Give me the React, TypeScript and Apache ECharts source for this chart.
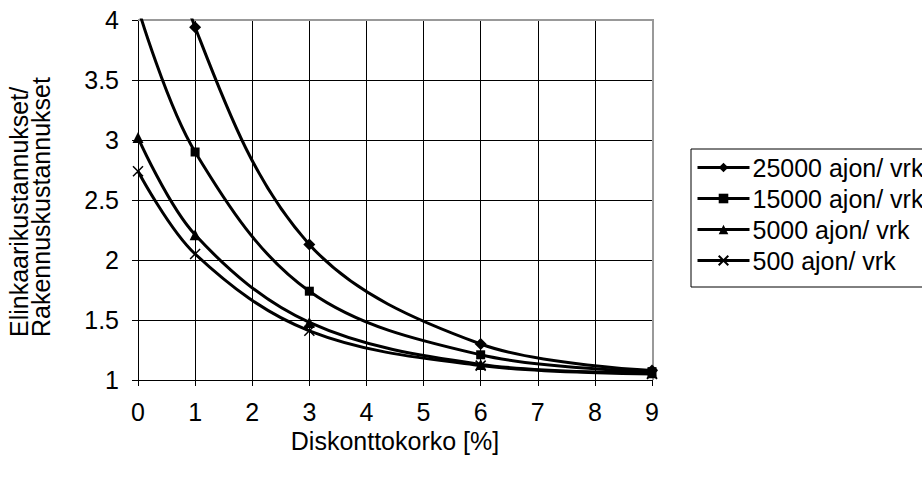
import React, { useEffect, useRef } from "react";
import * as echarts from "echarts";

// Discount rate (%) at which the ratio was computed
const rates = [0, 1, 3, 6, 9];

// Life-cycle cost / construction cost, per traffic volume
const seriesNames = ["25000 ajon/ vrk", "15000 ajon/ vrk", "5000 ajon/ vrk", "500 ajon/ vrk"];
const v25000 = [5.8, 3.94, 2.13, 1.3, 1.08];
const v15000 = [4.1, 2.9, 1.74, 1.21, 1.07];
const v5000 = [3.02, 2.21, 1.48, 1.13, 1.06];
const v500 = [2.74, 2.05, 1.41, 1.12, 1.05];

const xTicks = [0, 1, 2, 3, 4, 5, 6, 7, 8, 9];
const yTicks = [1, 1.5, 2, 2.5, 3, 3.5, 4];
const yTitleLines = ["Elinkaarikustannukset/", "Rakennuskustannukset"];

const FONT = "'Liberation Sans', Arial, sans-serif";
const FS = 25;
const CROSS = "path://M0,0L10,10M10,0L0,10";

const pair = (vals: number[]) => rates.map((r, i) => [r, vals[i]]);

export default function App() {
  const ref = useRef<HTMLDivElement>(null);

  useEffect(() => {
    document.body.style.margin = "0";
    const chart = echarts.init(ref.current!, undefined, { renderer: "svg" });

    const mk = (name: string, vals: number[], symbol: string, size: number, cross = false) => ({
      name,
      type: "line",
      data: pair(vals),
      smooth: 0.35,
      clip: true,
      symbol,
      symbolSize: size,
      showAllSymbol: true,
      lineStyle: { color: "#000", width: 3 },
      itemStyle: cross
        ? { color: "none", borderColor: "#000", borderWidth: 1.5 }
        : { color: "#000", borderColor: "#000", borderWidth: 0 },
      emphasis: { disabled: true },
    });

    chart.setOption({
      animation: false,
      backgroundColor: "#fff",
      textStyle: { fontFamily: FONT },
      grid: {
        left: 138,
        right: 270,
        top: 20,
        bottom: 97,
        show: false,
        containLabel: false,
        outerBoundsMode: "none",
      },
      xAxis: {
        type: "value",
        min: 0,
        max: 9,
        interval: 1,
        name: "Diskonttokorko [%]",
        nameLocation: "middle",
        nameGap: 40,
        nameTextStyle: { fontSize: FS, color: "#000", fontFamily: FONT },
        axisLine: { show: true, onZero: false, lineStyle: { color: "#000", width: 1 } },
        axisTick: { show: true, length: 6, lineStyle: { color: "#000" } },
        axisLabel: {
          fontSize: FS,
          color: "#000",
          margin: 19,
          fontFamily: FONT,
          formatter: (v: number) => (xTicks.includes(v) ? String(v) : ""),
        },
        splitLine: { show: true, lineStyle: { color: "#000", width: 1 } },
      },
      yAxis: {
        type: "value",
        min: 1,
        max: 4,
        interval: 0.5,
        axisLine: { show: true, lineStyle: { color: "#000", width: 1 } },
        axisTick: { show: true, length: 6, lineStyle: { color: "#000" } },
        axisLabel: {
          fontSize: FS,
          color: "#000",
          margin: 19,
          fontFamily: FONT,
          formatter: (v: number) => (yTicks.includes(v) ? String(v) : ""),
        },
        splitLine: { show: true, lineStyle: { color: "#000", width: 1 } },
      },
      legend: {
        orient: "vertical",
        left: 691,
        top: 149,
        itemWidth: 52,
        itemHeight: 12,
        itemGap: 6,
        padding: [6, 20, 14, 5],
        borderColor: "#000",
        borderWidth: 1,
        lineStyle: { width: 3, color: "#000" },
        textStyle: { fontSize: FS, color: "#000", fontFamily: FONT, padding: [0, 0, 0, -2] },
        data: seriesNames,
        selectedMode: false,
      },
      graphic: [
        // grey plot-area border on the top and right edges
        {
          type: "polyline",
          shape: { points: [[138, 20], [653, 20], [653, 380]] },
          style: { stroke: "#999", lineWidth: 2, fill: "none" },
          z: 1,
        },
        // two-line vertical y-axis title, both lines starting at the same baseline end
        ...yTitleLines.map((t, i) => ({
          type: "text",
          x: 19 + i * 22,
          y: 337,
          rotation: Math.PI / 2,
          style: {
            text: t,
            fontSize: FS,
            fontFamily: FONT,
            fill: "#000",
            align: "left",
            verticalAlign: "middle",
          },
        })),
      ],
      series: [
        mk(seriesNames[0], v25000, "diamond", 12),
        mk(seriesNames[1], v15000, "rect", 9),
        mk(seriesNames[2], v5000, "triangle", 11),
        mk(seriesNames[3], v500, CROSS, 10, true),
      ],
    });

    return () => chart.dispose();
  }, []);

  return (
    <div
      ref={ref}
      style={{ position: "absolute", left: 0, top: 0, width: 922, height: 477 }}
    />
  );
}
